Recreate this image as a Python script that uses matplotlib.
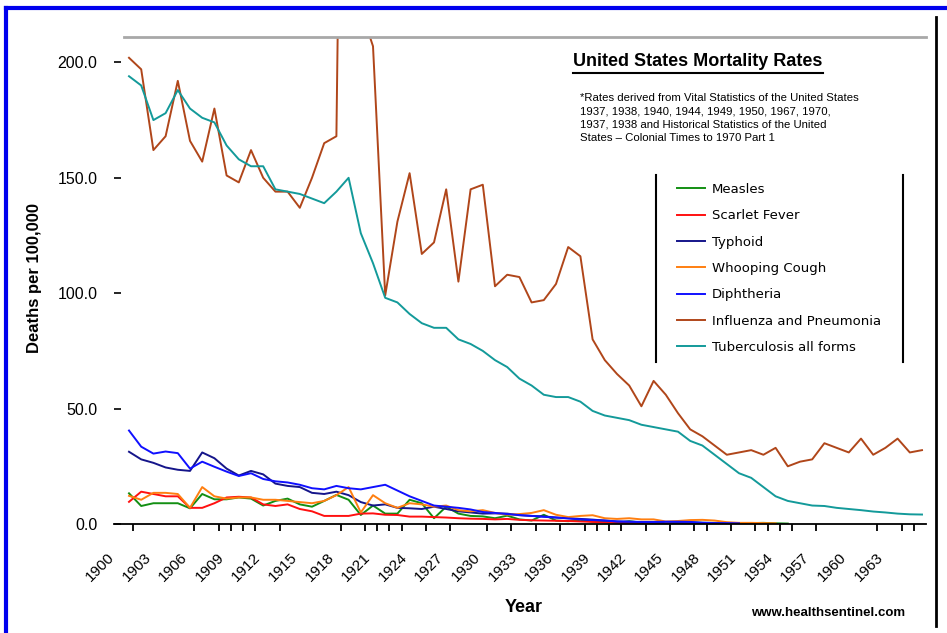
import numpy as np
import matplotlib.pyplot as plt
from matplotlib.lines import Line2D
from matplotlib.transforms import ScaledTranslation

plt.rcParams['font.family'] = ['Liberation Sans', 'DejaVu Sans']

W, H = 947, 633


def fx(x):
    return x / W


def fy(y):
    return 1 - y / H


# ---- data (deaths per 100,000) ----
years = list(range(1900, 1966))

influenza = [202, 197, 162, 168, 192, 166, 157, 180, 151, 148,
             162, 150, 144, 144, 137, 150, 165, 168, 588, 223,
             207, 99, 131, 152, 117, 122, 145, 105, 145, 147,
             103, 108, 107, 96, 97, 104, 120, 116, 80, 71,
             65, 60, 51, 62, 56, 48, 41, 38, 34, 30,
             31, 32, 30, 33, 25, 27, 28, 35, 33, 31,
             37, 30, 33, 37, 31, 32]

tuberculosis = [194, 190, 175, 178, 188, 180, 176, 174, 164, 158,
                155, 155, 145, 144, 143, 141, 139, 144, 150, 126,
                113, 98, 96, 91, 87, 85, 85, 80, 78, 75,
                71, 68, 63, 60, 56, 55, 55, 53, 49, 47,
                46, 45, 43, 42, 41, 40, 36, 34, 30, 26,
                22, 20, 16, 12, 10, 9, 8, 7.8, 7, 6.5,
                6, 5.4, 5, 4.5, 4.2, 4.1]

diphtheria = [40.5, 33.5, 30.5, 31.4, 30.7, 24, 27, 24.8, 22.7, 20.8,
              22, 19.5, 18.5, 18, 17, 15.5, 15, 16.5, 15.5, 15,
              16, 17, 14.5, 12, 10, 8, 7.5, 7, 6.3, 5.2,
              4.8, 4.3, 3.9, 3.5, 3.1, 2.8, 2.4, 2.0, 1.7, 1.5,
              1.1, 1.0, 0.9, 0.9, 1.0, 1.0, 0.9, 0.6, 0.4, 0.4, 0.3]

typhoid = [31.3, 28, 26.5, 24.5, 23.5, 23, 31, 28.5, 24, 21,
           23, 21.5, 17.5, 16.5, 16, 13.5, 13, 14, 12.5, 9.5,
           8, 8.5, 7, 6.8, 6.5, 7.5, 6.5, 5.5, 5, 4.5,
           4.6, 4.5, 3.8, 3.5, 3.3, 2.8, 2.5, 2.2, 1.9, 1.5,
           1.1, 1.0, 0.8, 0.6, 0.5, 0.4, 0.3, 0.2, 0.2, 0.1, 0.1]

scarlet_fever = [9.6, 14, 13, 12, 12, 7, 7, 9, 11.5, 11.8,
                 11.5, 8.5, 7.8, 8.5, 6.5, 5.5, 3.5, 3.5, 3.5, 4.5,
                 4.6, 4, 3.9, 3.2, 3.2, 3, 2.8, 2.5, 2.3, 2.2,
                 2, 2.2, 1.8, 1.6, 1.5, 1.4, 1.3, 1.1, 0.9, 0.7,
                 0.5, 0.4, 0.4, 0.3, 0.3, 0.3, 0.2, 0.1, 0.1, 0.1, 0.1]

whooping_cough = [12.2, 10.5, 13.5, 13.5, 13, 7, 16, 12, 11, 11.5,
                  11.5, 10.5, 10.5, 10, 9.5, 9, 10, 12.5, 16, 5,
                  12.5, 9, 7, 9, 8.5, 7.5, 8, 6, 5.5, 6,
                  4.8, 4, 4.3, 4.8, 6, 4, 3, 3.5, 3.8, 2.5,
                  2.2, 2.5, 2, 2, 1.1, 1.3, 1.7, 1.8, 1.5, 0.8,
                  0.5, 0.5, 0.4, 0.3]

measles = [13.3, 7.8, 9, 9, 9, 6.8, 13, 10.7, 10.7, 11.5,
           11, 8, 10, 11, 8.5, 7.5, 10, 12.6, 10.5, 3.9,
           8, 4.5, 4.5, 10.5, 9, 2.5, 7.5, 4.5, 3.5, 3.3,
           2.5, 3.6, 2, 1.5, 4, 1.5, 1.2, 1.8, 1.0, 0.8,
           0.5, 1.2, 0.6, 0.8, 0.3, 0.2, 0.8, 0.5, 0.5, 0.4,
           0.3, 0.4, 0.5, 0.3, 0.2]

series = [
    ('Measles', measles, '#138f13'),
    ('Scarlet Fever', scarlet_fever, '#ff1010'),
    ('Typhoid', typhoid, '#15158a'),
    ('Whooping Cough', whooping_cough, '#ff7f10'),
    ('Diphtheria', diphtheria, '#1010ff'),
    ('Influenza and Pneumonia', influenza, '#b0461a'),
    ('Tuberculosis all forms', tuberculosis, '#139a9a'),
]

label_years = list(range(1900, 1964, 3))
tick_years = [1900, 1905, 1907, 1908, 1909, 1910, 1912, 1917, 1919, 1920,
              1921, 1922, 1924, 1926, 1929, 1931, 1933, 1935, 1937, 1938,
              1939, 1940, 1942, 1944, 1946, 1947, 1949, 1951, 1952, 1953,
              1954, 1956, 1961, 1963, 1964]

# ---- figure ----
fig = plt.figure(figsize=(W / 100, H / 100), dpi=100)
ax = fig.add_axes([fx(114), fy(524), fx(926) - fx(114), fy(37) - fy(524)])

for name, vals, color in series:
    ax.plot(years[:len(vals)], vals, color=color, lw=1.4, label=name)

xmin, xmax = 1900 - 15 / 12.2, 1900 + 797 / 12.2
ax.set_xlim(xmin, xmax)
ax.set_ylim(0, 211)

for s in ['left', 'right']:
    ax.spines[s].set_visible(False)
ax.spines['top'].set_color('#a8a8a8')
ax.spines['top'].set_linewidth(2)
ax.spines['top'].set_bounds(1900 - 5 / 12.2, xmax)
ax.spines['bottom'].set_linewidth(1.3)

ax.set_yticks([0, 50, 100, 150, 200])
ax.set_yticklabels([f'{v:.1f}' for v in [0, 50, 100, 150, 200]], fontsize=11.5)
ax.tick_params(axis='y', direction='in', length=5, width=1.2, pad=12)

ax.set_xticks(label_years)
ax.set_xticklabels([str(y) for y in label_years], rotation=45, ha='right',
                   va='top', fontsize=11)
ax.set_xticks([y + 0.35 for y in tick_years], minor=True)
ax.tick_params(axis='x', which='major', length=0, pad=19)
ax.tick_params(axis='x', which='minor', length=5, width=1.3, direction='out')
shift = ScaledTranslation(-12 / 100, 0, fig.dpi_scale_trans)
for lab in ax.get_xticklabels():
    lab.set_transform(lab.get_transform() + shift)

fig.text(fx(524), fy(608), 'Year', fontsize=13, fontweight='bold',
         ha='center', va='center')
fig.text(fx(35), fy(278), 'Deaths per 100,000', fontsize=12, fontweight='bold',
         rotation=90, ha='center', va='center')
fig.text(fx(905), fy(613), 'www.healthsentinel.com', fontsize=9.5,
         fontweight='bold', ha='right', va='center')

title = fig.text(fx(698), fy(62), 'United States Mortality Rates', fontsize=13,
                 fontweight='bold', ha='center', va='center')
note = ('*Rates derived from Vital Statistics of the United States\n'
        '1937, 1938, 1940, 1944, 1949, 1950, 1967, 1970,\n'
        '1937, 1938 and Historical Statistics of the United\n'
        'States \u2013 Colonial Times to 1970 Part 1')
fig.text(fx(580), fy(93), note, fontsize=8.2, ha='left', va='top',
         linespacing=1.4)

leg = ax.legend(loc='upper left', bbox_to_anchor=(fx(677), fy(183)),
                bbox_transform=fig.transFigure, frameon=False,
                handlelength=2.1, handletextpad=0.55, labelspacing=1.01,
                borderpad=0, borderaxespad=0,
                prop={'family': 'DejaVu Sans', 'size': 9.5})

# legend side bars
for x in [656, 903]:
    fig.add_artist(Line2D([fx(x), fx(x)], [fy(175), fy(362)], color='black',
                          lw=1.5, transform=fig.transFigure))

# page frame
fig.add_artist(Line2D([fx(6), fx(6)], [fy(8), 0], color='#0000ee', lw=3,
                      transform=fig.transFigure))
fig.add_artist(Line2D([fx(6), 1], [fy(8), fy(8)], color='#0000ee', lw=3,
                      transform=fig.transFigure))
fig.add_artist(Line2D([fx(936), fx(936)], [fy(17), fy(626)], color='black',
                      lw=2, transform=fig.transFigure))

# underline the title
fig.canvas.draw()
bb = title.get_window_extent().transformed(fig.transFigure.inverted())
fig.add_artist(Line2D([bb.x0, bb.x1], [bb.y0 - 0.004, bb.y0 - 0.004],
                      color='black', lw=1.5, transform=fig.transFigure))

fig.savefig('out.png', dpi=100)
